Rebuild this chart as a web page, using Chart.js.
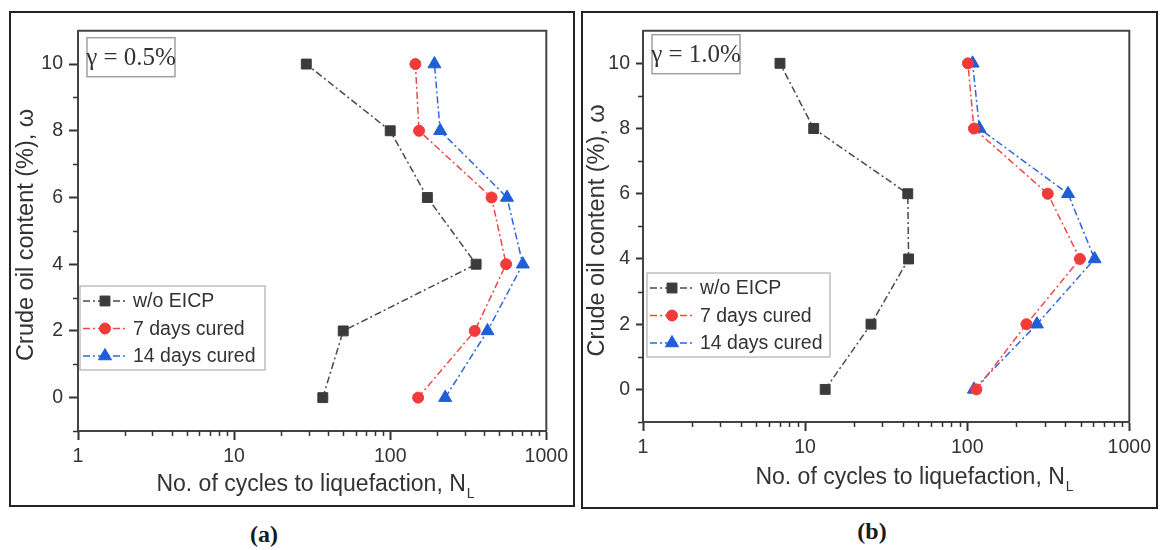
<!DOCTYPE html>
<html>
<head>
<meta charset="utf-8">
<script src="https://cdn.jsdelivr.net/npm/chart.js@4.4.0/dist/chart.umd.min.js"></script>
<style>
  body { margin: 0; background: #fff; width: 1161px; height: 550px; position: relative; overflow: hidden; }
  .panel { position: absolute; border: 2px solid #222; box-sizing: border-box; background: #fff; }
  .panel canvas { display: block; }
  #boxA { left: 9px; top: 11px; width: 566px; height: 496px; }
  #boxB { left: 581px; top: 11px; width: 577px; height: 498px; }
  .cap { position: absolute; font: bold 24px "Liberation Serif", "Times New Roman", serif; color: #1a1a1a; transform: translate(-50%, -50%); }
</style>
</head>
<body>
<div class="panel" id="boxA"><canvas id="chartA" width="562" height="492"></canvas></div>
<div class="panel" id="boxB"><canvas id="chartB" width="573" height="494"></canvas></div>
<div class="cap" style="left:264px; top:534px;">(a)</div>
<div class="cap" style="left:872px; top:531px;">(b)</div>

<script>
// crude oil content (%), same for every series
const omega = [0, 2, 4, 6, 8, 10];
const yTicks = [0, 2, 4, 6, 8, 10];
const yMinorTicks = [-1, 1, 3, 5, 7, 9];
const xTicks = [1, 10, 100, 1000];
const seriesNames = ['w/o EICP', '7 days cured', '14 days cured'];

// (a) gamma = 0.5 %  -- cycles to liquefaction N_L at omega = 0..10
const nlA_noEicp = [37, 50, 355, 173, 100, 29];
const nlA_7days = [151, 348, 553, 446, 153, 145];
const nlA_14days = [225, 420, 707, 560, 209, 192];

// (b) gamma = 1.0 %
const nlB_noEicp = [13.3, 25.5, 43.5, 43, 11.3, 7];
const nlB_7days = [114, 232, 496, 314, 110, 101];
const nlB_14days = [110, 269, 611, 419, 119, 108];

const FONT = '"Liberation Sans", Arial, sans-serif';
const INK = '#333';

const seriesStyle = [
  { fill: '#3b3b3b', line: '#4a4a4a', pointStyle: 'rect', radius: 7 },
  { fill: '#f23a3a', line: '#f04848', pointStyle: 'circle', radius: 5.5 },
  { fill: '#1e5fd8', line: '#2a68dc', pointStyle: 'triangle', radius: 7.5 }
];

function toPoints(values) {
  return values.map((v, i) => ({ x: v, y: omega[i] }));
}

function makeDatasets(seriesList) {
  return seriesList.map((values, i) => {
    const s = seriesStyle[i];
    return {
      label: seriesNames[i],
      data: toPoints(values),
      borderColor: s.line,
      backgroundColor: s.fill,
      borderWidth: 1.5,
      borderDash: [7, 3, 2, 3],
      pointStyle: s.pointStyle,
      pointRadius: s.radius,
      pointBackgroundColor: s.fill,
      pointBorderColor: s.fill,
      pointBorderWidth: 1,
      tension: 0,
      fill: false
    };
  });
}

// frame, minor ticks, inset label, legend and axis titles
const decorPlugin = {
  id: 'decor',
  afterDraw(chart, args, opts) {
    const ctx = chart.ctx;
    const area = chart.chartArea;
    const xs = chart.scales.x;
    const ys = chart.scales.y;
    ctx.save();

    // top and right frame lines
    ctx.strokeStyle = '#444';
    ctx.lineWidth = 2;
    ctx.beginPath();
    ctx.moveTo(area.left, area.top);
    ctx.lineTo(area.right, area.top);
    ctx.lineTo(area.right, area.bottom);
    ctx.stroke();

    // minor ticks
    ctx.strokeStyle = INK;
    ctx.lineWidth = 1.5;
    ctx.beginPath();
    for (let d = 1; d < 1000; d *= 10) {
      for (let m = 2; m <= 9; m++) {
        const px = Math.round(xs.getPixelForValue(d * m)) + 0.5;
        ctx.moveTo(px, area.bottom);
        ctx.lineTo(px, area.bottom + 5);
      }
    }
    yMinorTicks.forEach(v => {
      const py = Math.round(ys.getPixelForValue(v)) + 0.5;
      ctx.moveTo(area.left, py);
      ctx.lineTo(area.left - 5, py);
    });
    ctx.stroke();

    // inset strain label
    const ib = opts.inset;
    ctx.fillStyle = '#fff';
    ctx.strokeStyle = '#a0a0a0';
    ctx.lineWidth = 1.5;
    ctx.fillRect(area.left + ib.dx, area.top + ib.dy, ib.w, ib.h);
    ctx.strokeRect(area.left + ib.dx, area.top + ib.dy, ib.w, ib.h);
    ctx.fillStyle = INK;
    ctx.font = '25px "Liberation Serif", "Times New Roman", serif';
    ctx.textAlign = 'center';
    ctx.textBaseline = 'middle';
    ctx.fillText(ib.text, area.left + ib.dx + ib.w / 2, area.top + ib.dy + ib.h / 2 + 1);

    // legend
    const lg = opts.legend;
    ctx.fillStyle = '#fff';
    ctx.strokeStyle = '#b0b0b0';
    ctx.lineWidth = 1.2;
    ctx.fillRect(lg.x, lg.y, lg.w, lg.h);
    ctx.strokeRect(lg.x, lg.y, lg.w, lg.h);
    ctx.font = '19.5px ' + FONT;
    ctx.textAlign = 'left';
    chart.data.datasets.forEach((ds, i) => {
      const rowY = lg.y + lg.first + i * lg.step;
      ctx.save();
      ctx.strokeStyle = ds.borderColor;
      ctx.lineWidth = ds.borderWidth;
      ctx.setLineDash(ds.borderDash);
      ctx.beginPath();
      ctx.moveTo(lg.x + 3, rowY);
      ctx.lineTo(lg.x + 48, rowY);
      ctx.stroke();
      ctx.restore();
      ctx.fillStyle = ds.pointBackgroundColor;
      ctx.strokeStyle = ds.pointBorderColor;
      ctx.lineWidth = 1;
      Chart.helpers.drawPoint(ctx, { pointStyle: ds.pointStyle, radius: ds.pointRadius, rotation: 0, borderWidth: 1 }, lg.x + 25, rowY);
      ctx.fillStyle = INK;
      ctx.textBaseline = 'middle';
      ctx.fillText(ds.label, lg.x + 53, rowY + 1);
    });

    // x axis title with subscript L
    const xt = opts.xTitle;
    ctx.fillStyle = INK;
    ctx.textBaseline = 'middle';
    ctx.textAlign = 'left';
    ctx.font = '23px ' + FONT;
    const main = 'No. of cycles to liquefaction, N';
    const wMain = ctx.measureText(main).width;
    ctx.font = '14px ' + FONT;
    const wSub = ctx.measureText('L').width;
    const startX = xt.cx - (wMain + wSub) / 2;
    ctx.font = '23px ' + FONT;
    ctx.fillText(main, startX, xt.cy);
    ctx.font = '14px ' + FONT;
    ctx.fillText('L', startX + wMain + 1, xt.cy + 9);

    // y axis title
    ctx.translate(opts.yTitleX, (area.top + area.bottom) / 2 + 4);
    ctx.rotate(-Math.PI / 2);
    ctx.textAlign = 'center';
    ctx.font = '23.5px ' + FONT;
    ctx.fillText('Crude oil content (%), ω', 0, 0);

    ctx.restore();
  }
};

function buildChart(p) {
  const ctx = document.getElementById(p.id).getContext('2d');
  return new Chart(ctx, {
    type: 'line',
    data: { datasets: makeDatasets(p.series) },
    options: {
      responsive: false,
      animation: false,
      devicePixelRatio: 1,
      layout: { padding: { top: p.padTop, right: p.padRight, left: 0, bottom: 0 } },
      plugins: {
        legend: { display: false },
        tooltip: { enabled: false },
        decor: {
          inset: { text: p.inset, dx: 9, dy: p.insetDy, w: 88, h: 39 },
          legend: p.legend,
          xTitle: p.xTitle,
          yTitleX: p.yTitleX
        }
      },
      scales: {
        x: {
          type: 'logarithmic',
          min: 1,
          max: 1000,
          afterBuildTicks: s => { s.ticks = xTicks.map(v => ({ value: v, major: true })); },
          afterFit: s => { s.height = p.xAxisH; },
          ticks: {
            autoSkip: false,
            maxRotation: 0,
            padding: 5,
            color: INK,
            font: { family: FONT, size: 19.5 },
            callback: v => String(v)
          },
          grid: { display: true, drawOnChartArea: false, drawTicks: true, tickLength: 9, tickColor: INK, tickWidth: 2 },
          border: { display: true, color: '#444', width: 2 }
        },
        y: {
          type: 'linear',
          min: -1,
          max: 11,
          afterBuildTicks: s => { s.ticks = yTicks.map(v => ({ value: v })); },
          afterFit: s => { s.width = p.yAxisW; },
          ticks: {
            padding: 6,
            color: INK,
            font: { family: FONT, size: 19.5 }
          },
          grid: { display: true, drawOnChartArea: false, drawTicks: true, tickLength: p.yTickLen, tickColor: INK, tickWidth: 2 },
          border: { display: true, color: '#444', width: 2 }
        }
      }
    },
    plugins: [decorPlugin]
  });
}

buildChart({
  id: 'chartA',
  series: [nlA_noEicp, nlA_7days, nlA_14days],
  inset: 'γ = 0.5%',
  insetDy: 7,
  padTop: 8, padRight: 22, yAxisW: 67, xAxisH: 74, yTickLen: 9,
  legend: { x: 69, y: 273, w: 185, h: 84, first: 15, step: 27.5 },
  xTitle: { cx: 304, cy: 472 },
  yTitleX: 16
});

buildChart({
  id: 'chartB',
  series: [nlB_noEicp, nlB_7days, nlB_14days],
  inset: 'γ = 1.0%',
  insetDy: 4,
  padTop: 5, padRight: 18, yAxisW: 60, xAxisH: 85, yTickLen: 7,
  legend: { x: 64, y: 260, w: 183, h: 84, first: 15, step: 27.5 },
  xTitle: { cx: 331, cy: 465 },
  yTitleX: 15
});
</script>
</body>
</html>
